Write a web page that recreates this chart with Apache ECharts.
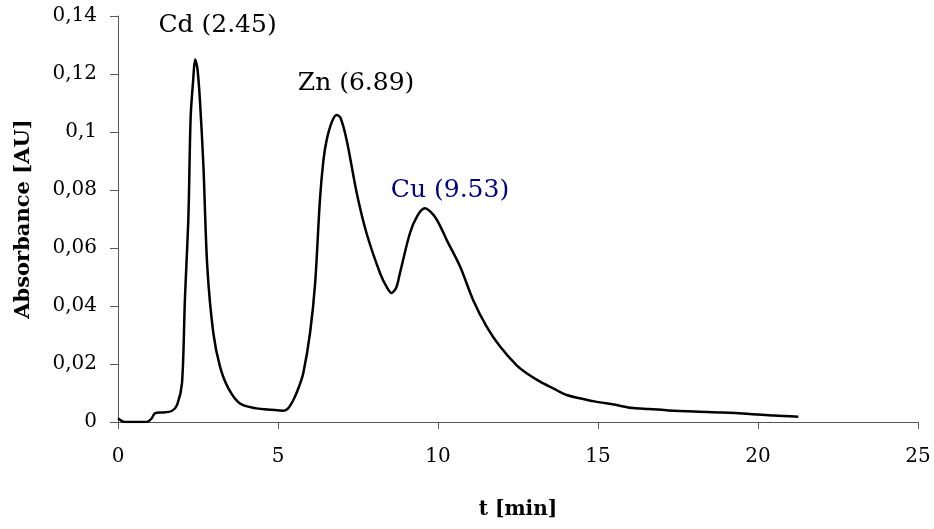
<!DOCTYPE html>
<html>
<head>
<meta charset="utf-8">
<script src="https://cdn.jsdelivr.net/npm/echarts@6/dist/echarts.min.js"></script>
<style>html,body{margin:0;padding:0;background:#fff;}#c{width:934px;height:529px;}</style>
</head>
<body>
<div id="c"></div>
<script>
var times = [0, 0.1, 0.2, 0.9, 1.05, 1.15, 1.4, 1.68, 1.85, 2.0, 2.09, 2.2, 2.27, 2.35, 2.41, 2.48, 2.56, 2.67, 2.79, 2.98, 3.19, 3.45, 3.81, 4.33, 4.8, 5.17,
  5.3, 5.48, 5.65, 5.79, 6.0, 6.16, 6.31, 6.42, 6.52, 6.68, 6.83, 6.95, 7.15, 7.46, 7.77, 8.19, 8.4, 8.55, 8.7, 8.81, 9.12, 9.35, 9.59, 9.85, 10.05, 10.27, 10.69,
  11.1, 11.52, 11.94, 12.46, 12.77, 13.19, 13.6, 14.02, 14.85, 15.5, 16.1, 16.6, 17.2, 18.0, 18.9, 19.75, 20.5, 21.26];
var absorbance = [0.0013, 0.0005, 0, 0, 0.0012, 0.003, 0.0033, 0.0038, 0.006, 0.0134, 0.042, 0.0708, 0.105, 0.118, 0.125, 0.122, 0.111, 0.088, 0.0536, 0.0306, 0.019, 0.0116, 0.0064, 0.0047, 0.0042, 0.0039,
  0.0045, 0.0076, 0.012, 0.0168, 0.0306, 0.0478, 0.0766, 0.0903, 0.0972, 0.1034, 0.1059, 0.105, 0.097, 0.079, 0.065, 0.0513, 0.0465, 0.0445, 0.0465, 0.0513, 0.065, 0.071, 0.0737, 0.0715, 0.068, 0.0628, 0.0536,
  0.042, 0.0329, 0.026, 0.0195, 0.0168, 0.0139, 0.0116, 0.0093, 0.0072, 0.006, 0.0048, 0.0045, 0.004, 0.0036, 0.0033, 0.0028, 0.0022, 0.0018];
var peakLabels = ['Cd (2.45)', 'Zn (6.89)', 'Cu (9.53)'];
var labelT = [3.11, 7.44, 10.375];
var labelA = [0.1366, 0.1166, 0.08];
var labelColors = ['#000000', '#000000', '#000080'];

var data = times.map(function (t, i) { return [t, absorbance[i]]; });
var serif = 'DejaVu Serif';
var marks = peakLabels.map(function (s, i) {
  return { coord: [labelT[i], labelA[i]], value: s,
    label: { show: true, formatter: s, color: labelColors[i], fontFamily: serif, fontSize: 25, position: 'inside' } };
});
var chart = echarts.init(document.getElementById('c'), null, { renderer: 'canvas' });
chart.setOption({
  animation: false,
  backgroundColor: '#fff',
  grid: { left: 118, right: 16, top: 16, bottom: 107, containLabel: false },
  xAxis: {
    type: 'value', min: 0, max: 25, interval: 5,
    name: 't [min]', nameLocation: 'middle', nameGap: 78,
    nameTextStyle: { fontFamily: serif, fontWeight: 'bold', fontSize: 20, color: '#000' },
    axisLine: { lineStyle: { color: '#555', width: 1 } },
    axisTick: { show: true, length: 7, inside: false, lineStyle: { color: '#555' } },
    axisLabel: { margin: 25, fontFamily: serif, fontSize: 20, color: '#000' },
    splitLine: { show: false }
  },
  yAxis: {
    type: 'value', min: 0, max: 0.14, interval: 0.02,
    name: 'Absorbance [AU]', nameLocation: 'middle', nameGap: 84,
    nameTextStyle: { fontFamily: serif, fontWeight: 'bold', fontSize: 21, color: '#000' },
    axisLine: { show: true, lineStyle: { color: '#555', width: 1 } },
    axisTick: { show: true, length: 8, inside: false, lineStyle: { color: '#555' } },
    axisLabel: { margin: 21, fontFamily: serif, fontSize: 20, color: '#000',
      formatter: function (v) { return String(Number(v.toFixed(2))).replace('.', ','); } },
    splitLine: { show: false }
  },
  series: [{
    type: 'line', data: data, showSymbol: false, smooth: 0.3,
    lineStyle: { color: '#000', width: 2.5 },
    markPoint: { symbol: 'circle', symbolSize: 1, itemStyle: { color: 'rgba(0,0,0,0)' }, data: marks, silent: true }
  }]
});
</script>
</body>
</html>
